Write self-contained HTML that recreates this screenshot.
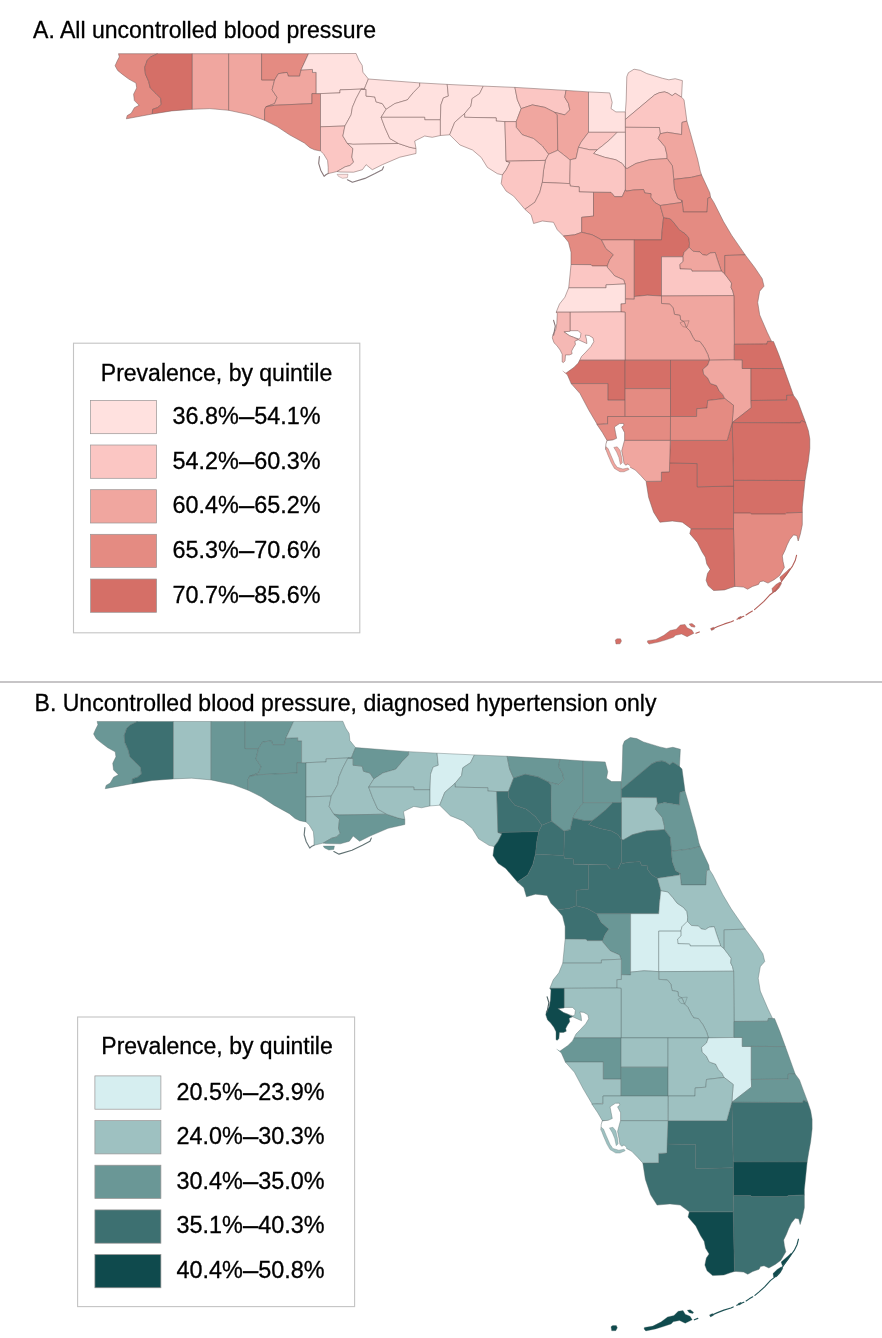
<!DOCTYPE html>
<html><head><meta charset="utf-8"><title>Uncontrolled blood pressure, Florida counties</title>
<style>
html,body{margin:0;padding:0;background:#fff}
svg{display:block}
text{font-family:"Liberation Sans",Arial,Helvetica,sans-serif;fill:#000}
</style></head><body>
<svg width="882" height="1338" viewBox="0 0 882 1338">
<rect width="882" height="1338" fill="#fff"/>
<text x="33.1" y="37.6" font-size="23.02" stroke="#000" stroke-width="0.3">A. All uncontrolled blood pressure</text>
<g stroke="#755956" stroke-width="0.5" stroke-linejoin="round">
<polygon points="118.5,53.7 157.6,53.7 150.8,56.9 147.1,60.3 146.1,63.7 144.7,67.1 145.4,74.0 148.7,81.5 150.2,87.9 155.8,93.4 160.6,98.2 161.3,104.5 157.4,107.7 152.6,109.3 152.3,114.0 126.4,118.8 127.2,115.6 131.2,113.3 134.4,107.7 139.1,105.3 134.4,100.6 133.6,94.2 136.7,87.9 136.0,83.1 128.8,79.1 122.5,74.4 117.7,70.5 115.1,65.8 117.2,61.0 119.3,56.9 118.5,53.7" fill="#e48b82"/>
<polygon points="157.6,53.7 192.3,53.7 192.3,109.3 171.7,110.9 152.3,114.0 152.6,109.3 157.4,107.7 161.3,104.5 160.6,98.2 155.8,93.4 150.2,87.9 148.7,81.5 145.4,74.0 144.7,67.1 146.1,63.7 147.1,60.3 150.8,56.9 157.6,53.7" fill="#d56f67"/>
<polygon points="192.3,53.7 228.7,53.7 228.7,110.3 209.8,108.6 192.3,109.3" fill="#f0a69f"/>
<polygon points="228.7,53.7 261.6,53.7 261.6,79.9 274.6,79.9 272.1,89.9 277.1,97.4 274.6,103.6 265.9,106.8 264.6,109.8 264.6,120.3 249.7,114.8 228.7,110.3" fill="#f0a69f"/>
<polygon points="261.6,53.7 308.5,53.7 301.0,69.9 299.6,76.2 288.3,76.2 287.1,72.4 278.4,73.7 274.6,79.9 261.6,79.9" fill="#e48b82"/>
<polygon points="274.6,79.9 278.4,73.7 287.1,72.4 288.3,76.2 299.6,76.2 301.0,69.9 312.5,69.4 312.5,72.4 316.2,72.4 316.2,93.6 312.0,93.6 312.0,103.6 274.6,105.3 265.9,106.8 274.6,103.6 277.1,97.4 272.1,89.9" fill="#f0a69f"/>
<polygon points="265.9,106.8 274.6,105.3 312.0,103.6 312.0,93.6 320.5,93.6 320.5,151.0 314.5,149.8 309.9,147.7 304.4,143.0 289.5,134.8 277.2,126.6 264.6,120.3 264.6,109.8" fill="#e48b82"/>
<polygon points="308.5,53.7 356.1,53.5 358.8,60.0 362.2,65.4 362.9,72.2 368.4,79.0 365.6,85.8 364.3,89.2 361.1,89.1 340.0,89.9 340.0,92.9 320.5,93.6 316.2,93.6 316.2,72.4 312.5,72.4 312.5,69.4 301.0,69.9" fill="#ffe1df"/>
<polygon points="320.5,93.6 340.0,92.9 340.0,89.9 361.1,89.1 356.1,98.6 352.4,107.3 351.1,114.8 344.9,126.0 320.5,126.8" fill="#ffe1df"/>
<polygon points="320.5,126.8 344.9,126.0 342.9,136.0 347.4,143.5 352.9,148.5 351.9,157.2 353.6,162.2 350.0,165.5 345.2,166.8 337.1,171.5 328.2,173.6 328.2,167.4 327.6,160.6 323.5,153.8 320.5,151.0" fill="#fbc6c3"/>
<polygon points="361.1,89.1 366.1,89.4 366.1,96.1 374.8,96.9 376.1,101.9 382.3,103.6 386.1,109.3 381.1,117.3 384.8,127.3 389.8,138.5 398.5,143.5 352.9,144.3 347.4,143.5 342.9,136.0 344.9,126.0 351.1,114.8 352.4,107.3 356.1,98.6" fill="#ffe1df"/>
<polygon points="352.9,144.3 398.5,143.5 409.8,147.3 416.0,148.5 416.0,153.5 399.8,157.2 382.3,164.7 372.3,169.7 366.1,164.7 362.4,169.7 353.6,172.2 340.0,172.0 337.1,171.5 345.2,166.8 350.0,165.5 353.6,162.2 351.9,157.2 352.9,148.5 347.4,143.5" fill="#ffe1df"/>
<polygon points="368.4,79.0 419.7,82.9 419.7,86.1 413.5,92.4 407.3,99.9 394.8,103.6 386.1,109.3 382.3,103.6 376.1,101.9 374.8,96.9 366.1,96.1 366.1,89.4 361.1,89.1 364.3,89.2 365.6,85.8" fill="#ffe1df"/>
<polygon points="419.7,82.9 447.2,84.4 448.4,96.1 443.4,97.9 440.9,104.9 440.4,119.8 424.7,119.8 424.7,117.3 381.1,117.3 386.1,109.3 394.8,103.6 407.3,99.9 413.5,92.4 419.7,86.1" fill="#ffe1df"/>
<polygon points="381.1,117.3 424.7,117.3 424.7,119.8 440.4,119.8 440.4,135.5 432.2,137.3 424.7,136.0 414.7,141.0 416.0,148.5 409.8,147.3 398.5,143.5 389.8,138.5 384.8,127.3" fill="#ffe1df"/>
<polygon points="447.2,84.4 483.3,86.1 479.6,93.6 472.1,98.6 470.9,106.1 464.6,113.6 454.7,122.3 449.7,134.8 440.4,135.5 440.4,119.8 440.9,104.9 443.4,97.9 448.4,96.1" fill="#ffe1df"/>
<polygon points="483.3,86.1 514.9,87.4 517.4,99.9 521.2,108.6 517.4,118.6 516.2,121.6 504.9,121.6 496.2,121.1 496.2,117.9 464.6,117.3 464.6,113.6 470.9,106.1 472.1,98.6 479.6,93.6" fill="#ffe1df"/>
<polygon points="464.6,113.6 464.6,117.3 496.2,117.9 496.2,121.1 504.9,121.6 506.1,161.2 509.9,162.4 506.1,169.9 502.4,174.9 497.4,173.7 487.4,167.4 481.2,157.4 472.5,150.0 460.0,145.0 449.7,134.8 454.7,122.3" fill="#ffe1df"/>
<polygon points="514.9,87.4 566.0,90.4 564.8,97.4 568.5,103.6 569.8,109.9 564.8,114.9 554.8,112.4 544.9,107.4 532.4,104.9 521.2,108.6 517.4,99.9" fill="#fbc6c3"/>
<polygon points="521.2,108.6 532.4,104.9 544.9,107.4 554.8,112.4 557.3,114.9 557.8,150.3 548.6,154.3 542.4,146.0 533.6,138.6 522.4,134.8 516.2,127.3 516.2,121.6 517.4,118.6" fill="#f0a69f"/>
<polygon points="566.0,90.4 588.5,91.9 588.5,132.3 581.0,142.3 578.5,147.3 576.0,158.5 569.8,159.8 563.6,154.8 557.8,150.3 557.3,114.9 554.8,112.4 564.8,114.9 569.8,109.9 568.5,103.6 564.8,97.4" fill="#f0a69f"/>
<polygon points="588.5,91.9 609.7,92.9 612.2,102.4 611.0,108.6 615.9,111.9 625.4,111.9 625.4,132.3 588.5,132.3" fill="#ffe1df"/>
<polygon points="625.4,111.9 626.2,100.0 626.8,76.7 628.4,72.7 634.0,69.2 640.3,70.3 646.7,73.5 654.6,75.9 662.5,78.3 668.9,79.8 675.2,78.7 682.4,80.6 681.6,96.5 681.6,97.3 675.2,93.3 672.1,95.7 668.0,93.0 664.6,91.9 659.4,92.7 654.6,94.9 625.4,119.4" fill="#ffe1df"/>
<polygon points="625.4,119.4 654.6,94.9 659.4,92.7 664.6,91.9 668.0,93.0 672.1,95.7 675.2,93.3 681.6,97.3 684.0,99.7 685.4,109.9 686.9,121.1 682.0,122.4 681.6,134.6 667.1,132.3 660.2,133.8 659.4,127.5 625.4,127.3" fill="#fbc6c3"/>
<polygon points="625.4,127.3 659.4,127.5 660.2,133.8 658.2,138.6 665.0,146.7 667.0,154.9 667.1,158.5 649.6,159.8 635.9,163.5 627.2,168.5 625.4,168.0" fill="#fbc6c3"/>
<polygon points="682.0,122.4 686.9,121.1 690.8,134.5 694.9,149.5 697.6,159.0 700.3,171.2 701.7,175.3 701.0,175.0 691.5,177.3 673.8,179.4 672.4,165.8 667.1,158.5 667.0,154.9 665.0,146.7 658.2,138.6 660.2,133.8 667.1,132.3 681.6,134.6" fill="#f0a69f"/>
<polygon points="588.5,132.3 617.2,132.3 609.7,139.8 602.2,146.0 597.2,149.8 589.8,149.8 578.5,147.3 581.0,142.3" fill="#fbc6c3"/>
<polygon points="617.2,132.3 625.4,132.3 625.4,168.0 622.2,163.5 615.9,159.8 604.7,157.3 593.5,153.5 597.2,149.8 602.2,146.0 609.7,139.8" fill="#ffe1df"/>
<polygon points="504.9,121.6 516.2,121.6 516.2,127.3 522.4,134.8 533.6,138.6 542.4,146.0 548.6,154.3 545.4,160.4 506.1,161.2" fill="#fbc6c3"/>
<polygon points="548.6,154.3 557.8,150.3 563.6,154.8 569.8,159.8 570.3,159.8 569.8,183.6 542.3,182.4 543.6,169.9 545.4,160.4" fill="#fbc6c3"/>
<polygon points="506.1,161.2 545.4,160.4 543.6,169.9 542.3,182.4 539.8,192.4 534.8,202.3 524.9,209.3 521.1,204.8 513.6,196.1 506.1,191.1 501.2,183.6 502.4,174.9 506.1,169.9 509.9,162.4" fill="#fbc6c3"/>
<polygon points="570.3,159.8 576.0,158.5 578.5,147.3 589.8,149.8 597.2,149.8 593.5,153.5 604.7,157.3 615.9,159.8 622.2,163.5 625.4,168.0 625.4,189.7 622.2,196.7 614.7,196.7 611.0,192.4 579.2,191.9 579.2,186.9 570.3,186.1 569.8,183.6" fill="#fbc6c3"/>
<polygon points="542.3,182.4 569.8,183.6 570.3,186.1 579.2,186.9 579.2,191.9 593.5,192.4 593.5,216.1 581.7,217.3 581.7,232.3 574.7,234.8 563.5,236.0 557.3,229.8 553.5,222.3 542.3,221.0 533.6,223.5 531.1,214.8 524.9,209.3 534.8,202.3 539.8,192.4" fill="#fbc6c3"/>
<polygon points="625.4,168.0 627.2,168.5 635.9,163.5 649.6,159.8 667.1,158.5 672.4,165.8 673.8,179.4 674.5,188.9 677.9,198.4 682.0,200.5 681.3,202.5 660.2,205.5 654.8,202.5 650.7,197.1 651.0,193.7 644.8,193.0 643.5,189.5 633.5,190.0 626.1,191.2 625.4,189.7" fill="#f0a69f"/>
<polygon points="673.8,179.4 691.5,177.3 701.0,175.0 701.7,175.3 709.9,193.0 710.5,197.1 707.8,198.4 707.1,212.0 683.3,212.0 682.0,200.5 677.9,198.4 674.5,188.9" fill="#e48b82"/>
<polygon points="593.5,192.4 611.0,192.4 614.7,196.7 622.2,196.7 625.4,189.7 626.1,191.2 633.5,190.0 643.5,189.5 644.8,193.0 651.0,193.7 650.7,197.1 654.8,202.5 660.2,205.5 663.6,217.5 662.2,229.9 661.5,239.9 601.5,239.9 592.2,234.8 581.7,232.3 581.7,217.3 593.5,216.1" fill="#e48b82"/>
<polygon points="563.5,236.0 574.7,234.8 581.7,232.3 592.2,234.8 601.5,239.9 605.9,248.5 613.4,254.7 609.7,259.7 607.2,266.0 592.2,266.0 591.0,264.7 571.0,264.5 571.0,252.2 568.5,242.2" fill="#e48b82"/>
<polygon points="601.5,239.9 634.3,239.9 634.3,299.2 625.3,299.0 625.3,284.8 625.1,284.0 623.6,279.8 614.8,276.0 607.3,267.3 607.2,266.0 609.7,259.7 613.4,254.7 605.9,248.5" fill="#f0a69f"/>
<polygon points="634.3,239.9 661.5,239.9 662.2,229.9 663.6,217.5 670.4,218.8 675.2,224.3 679.3,229.7 685.4,233.8 688.8,237.9 689.5,243.3 689.2,247.3 687.4,249.1 684.0,252.5 682.9,256.8 661.5,256.8 661.5,296.0 647.3,295.2 634.3,296.5" fill="#d56f67"/>
<polygon points="660.2,205.5 681.3,202.5 682.0,200.5 683.3,212.0 707.1,212.0 707.8,198.4 710.5,197.1 713.9,202.5 723.5,221.6 731.6,235.2 745.2,254.9 724.8,255.5 724.8,274.0 721.4,271.2 719.2,264.9 716.9,258.1 715.2,252.5 710.1,253.0 706.7,255.3 702.7,254.7 699.9,251.9 693.1,251.3 689.2,247.3 689.5,243.3 688.8,237.9 685.4,233.8 679.3,229.7 675.2,224.3 670.4,218.8 663.6,217.5" fill="#e48b82"/>
<polygon points="682.9,256.8 684.0,252.5 687.4,249.1 689.2,247.3 693.1,251.3 699.9,251.9 702.7,254.7 706.7,255.3 710.1,253.0 715.2,252.5 716.9,258.1 719.2,264.9 721.4,271.2 692.0,271.2 691.4,269.3 680.0,268.9 679.7,264.4 682.9,261.5" fill="#f0a69f"/>
<polygon points="661.5,256.8 682.9,256.8 682.9,261.5 679.7,264.4 680.0,268.9 691.4,269.3 692.0,271.2 721.4,271.2 724.8,274.0 728.2,278.5 731.6,283.1 731.1,287.6 732.8,291.0 733.9,295.6 661.5,296.0" fill="#fbc6c3"/>
<polygon points="724.8,255.5 745.2,254.9 754.7,267.5 762.2,278.7 764.0,286.2 759.7,291.2 757.7,302.4 759.7,314.9 767.2,332.3 771.6,341.4 767.6,341.4 766.9,344.1 734.3,344.3 733.9,295.6 732.8,291.0 731.1,287.6 731.6,283.1 728.2,278.5 724.8,274.0" fill="#e48b82"/>
<polygon points="661.5,296.0 733.9,295.6 734.3,344.3 734.3,359.8 709.5,360.2 707.8,354.5 704.4,347.7 699.9,341.5 695.4,340.9 693.1,337.5 689.7,330.7 686.3,327.3 684.0,321.6 680.6,319.9 680.0,315.4 674.4,314.3 673.2,308.0 669.8,304.1 661.5,303.5" fill="#f0a69f"/>
<polygon points="625.3,299.0 634.3,299.2 634.3,296.5 647.3,295.2 661.5,296.0 661.5,303.5 669.8,304.1 673.2,308.0 674.4,314.3 680.0,315.4 680.6,319.9 684.0,321.6 686.3,327.3 689.7,330.7 693.1,337.5 695.4,340.9 699.9,341.5 704.4,347.7 707.8,354.5 709.5,360.2 625.1,360.2 625.1,312.2 620.9,311.9 620.9,303.8 625.3,303.5" fill="#f0a69f"/>
<polygon points="571.0,264.5 591.0,264.7 592.2,266.0 607.2,266.0 607.3,267.3 614.8,276.0 623.6,279.8 625.1,284.0 606.1,284.8 606.1,287.8 568.7,287.8 570.0,275.0" fill="#fbc6c3"/>
<polygon points="568.7,287.8 606.1,287.8 606.1,284.8 625.1,284.0 625.3,284.8 625.3,303.5 620.9,303.8 620.9,311.9 570.0,312.2 556.2,312.2 559.5,304.0 564.9,297.2" fill="#ffe1df"/>
<polygon points="570.0,312.2 620.9,311.9 625.1,312.2 625.1,360.2 573.0,360.2 574.0,345.0 578.2,339.7 570.0,331.3" fill="#fbc6c3"/>
<polygon points="573.0,360.2 625.1,360.2 625.1,400.2 607.8,400.2 607.8,383.6 571.2,383.6 567.4,374.8 562.4,370.5 566.0,368.0" fill="#d56f67"/>
<polygon points="571.2,383.6 607.8,383.6 607.8,400.2 625.1,400.2 625.1,416.5 607.8,416.5 607.8,423.5 597.4,424.7 588.6,409.8 580.0,393.5" fill="#e48b82"/>
<polygon points="625.1,360.2 670.5,360.2 670.5,388.6 625.1,388.6" fill="#d56f67"/>
<polygon points="625.1,388.6 670.5,388.6 670.5,416.5 625.1,416.5" fill="#e48b82"/>
<polygon points="670.5,360.2 709.5,360.2 707.7,365.2 702.9,369.3 703.6,374.0 707.7,378.1 710.4,383.5 716.5,385.6 719.3,391.0 722.7,394.4 724.7,398.5 707.7,400.5 707.0,408.0 696.8,408.7 696.6,416.5 670.5,416.5" fill="#d56f67"/>
<polygon points="709.5,360.2 734.3,359.8 742.3,359.8 742.3,368.5 751.0,368.5 751.0,400.5 751.3,407.7 732.2,422.6 733.5,405.3 724.7,398.5 722.7,394.4 719.3,391.0 716.5,385.6 710.4,383.5 707.7,378.1 703.6,374.0 702.9,369.3 707.7,365.2 709.5,360.2" fill="#f0a69f"/>
<polygon points="734.3,344.3 766.9,344.1 767.6,341.4 771.6,341.4 773.5,341.5 778.4,353.6 783.9,368.6 751.0,368.5 742.3,368.5 742.3,359.8 734.3,359.8" fill="#d56f67"/>
<polygon points="751.0,368.5 783.9,368.6 790.7,387.6 793.4,395.2 786.7,395.4 786.7,400.2 751.0,400.5" fill="#d56f67"/>
<polygon points="751.0,400.5 786.7,400.2 786.7,395.4 793.4,395.2 797.6,400.9 801.6,411.8 805.7,422.7 801.6,420.6 800.3,422.9 732.2,422.6 751.3,407.7" fill="#d56f67"/>
<polygon points="732.2,422.6 800.3,422.9 801.6,420.6 805.7,422.7 808.4,430.8 809.8,439.0 809.8,448.5 808.4,460.7 806.4,471.6 805.0,480.5 733.5,480.4" fill="#d56f67"/>
<polygon points="733.5,480.4 805.0,480.5 803.7,493.4 802.3,507.0 802.3,512.4 786.7,513.1 785.3,514.1 751.3,514.1 750.6,513.1 733.6,513.1" fill="#d56f67"/>
<polygon points="733.6,513.1 750.6,513.1 751.3,514.1 785.3,514.1 786.7,513.1 802.3,512.4 802.3,524.7 800.3,534.2 798.2,541.0 796.9,535.6 793.5,534.9 789.8,539.5 787.1,545.0 785.0,550.4 782.3,555.9 783.0,561.3 784.4,567.4 781.6,572.2 779.6,575.6 774.1,579.7 768.0,583.1 763.3,581.0 759.9,581.7 758.5,584.4 752.4,586.5 747.6,589.2 743.5,587.1 736.7,586.5 734.7,586.5 733.5,528.7" fill="#e48b82"/>
<polygon points="691.1,528.7 733.5,528.7 734.7,586.5 730.6,587.8 724.5,589.9 713.6,590.5 708.2,585.8 706.1,580.3 707.5,573.5 710.2,569.5 706.8,564.0 705.4,557.2 702.0,551.8 697.3,542.4 689.8,533.7" fill="#d56f67"/>
<polygon points="669.3,462.9 697.3,463.6 697.3,486.8 733.5,486.1 733.5,528.7 691.1,528.7 682.3,522.2 672.3,521.0 659.9,522.2 653.6,512.2 648.6,497.3 646.1,481.4 661.4,481.2 661.4,472.1 669.4,471.8" fill="#d56f67"/>
<polygon points="670.5,440.4 727.2,440.4 732.2,422.6 733.5,480.4 733.5,486.1 697.3,486.8 697.3,463.6 669.3,462.9" fill="#d56f67"/>
<polygon points="670.5,416.5 696.6,416.5 696.8,408.7 707.0,408.0 707.7,400.5 724.7,398.5 733.5,405.3 732.2,422.6 727.2,440.4 670.5,440.4" fill="#e48b82"/>
<polygon points="607.6,416.5 670.5,416.5 670.3,440.4 607.0,440.4 602.5,432.7 596.8,424.2 607.6,424.2" fill="#e48b82"/>
<polygon points="607.0,440.4 670.3,440.4 669.4,471.8 661.4,472.1 661.4,481.2 646.1,481.4 641.0,475.8 635.4,470.1 629.7,467.0 624.0,471.0 618.0,469.0 612.0,463.0 606.0,449.0" fill="#f0a69f"/>
<polygon points="563.9,331.8 569.4,330.7 578.2,330.7 580.9,333.4 580.4,337.3 578.8,339.0 573.7,337.3 569.4,335.7" fill="#fff"/>
<polygon points="578.2,339.7 586.9,343.6 586.4,339.0 585.3,335.1 589.1,335.5 593.0,337.9 593.8,341.7 590.8,346.7 585.8,352.1 581.5,356.5 578.2,363.1 573.8,367.5 566.1,373.0 561.9,370.6 563.3,363.1 565.0,360.9 565.5,354.9 569.4,354.9 572.1,353.8 571.6,351.0 573.2,347.8 575.4,344.5 574.9,341.2" fill="#fff" stroke="none"/>
<polyline points="578.2,339.7 586.9,343.6 586.4,339.0 585.3,335.1 589.1,335.5 593.0,337.9 593.8,341.7 590.8,346.7 585.8,352.1 581.5,356.5 578.2,363.1 573.8,367.5 566.1,373.0" fill="none"/>
<polygon points="614.4,427.0 619.5,423.6 623.4,423.4 624.0,425.3 621.7,427.0 624.6,432.7 624.6,440.0 622.9,446.3 621.7,450.8 623.1,457.6 624.0,463.3 625.7,465.2 628.0,463.9 629.7,465.6 630.2,467.8 629.1,469.8 624.0,472.0 620.0,472.0 614.4,468.6 611.3,463.3 607.9,455.4 605.6,449.7 605.9,444.0 607.0,440.6 612.7,440.0 616.6,438.3 615.5,432.7" fill="#fff" stroke="none"/>
<polyline points="605.6,449.7 605.9,444.0 607.0,440.6 612.7,440.0 616.6,438.3 615.5,432.7 614.4,427.0 619.5,423.6 623.4,423.4 624.0,425.3 621.7,427.0 624.6,432.7 624.6,440.0 622.9,446.3 621.7,450.8 623.1,457.6 624.0,463.3 625.7,465.2 628.0,463.9 629.7,465.6" fill="none"/>
<polygon points="605.9,446.8 608.1,448.5 611.0,455.4 614.4,463.3 617.2,467.3 622.9,469.0 628.0,468.0 629.1,469.5 624.0,471.8 620.0,471.8 614.4,468.4 611.5,463.3 608.1,455.4 605.9,449.7" fill="#f0a69f" stroke-width="0.35"/>
<polygon points="613.8,447.4 617.2,446.8 620.0,450.2 621.7,457.6 622.3,462.7 620.4,464.6 618.9,457.6 616.6,452.0" fill="#f0a69f" stroke-width="0.35"/>
<polygon points="337.1,174.3 348.0,174.3 347.3,177.7 342.5,178.3 338.4,176.3" fill="#ffe1df" stroke-width="0.35"/>
<polygon points="647.3,642.1 647.6,640.7 655.8,639.4 663.9,635.3 670.1,630.5 676.2,629.2 680.3,625.1 685.0,624.4 687.1,627.8 691.8,629.9 693.9,633.3 687.1,636.7 681.6,634.0 675.5,635.3 673.5,637.3 665.3,640.1 658.5,642.1 649.0,644.1" fill="#d56f67" stroke-width="0.35"/>
<polygon points="689.1,624.0 692.0,623.5 695.2,626.0 694.5,627.3 691.0,626.5" fill="#d56f67" stroke-width="0.35"/>
<polygon points="615.3,640.0 617.0,638.8 620.5,638.8 621.5,641.0 620.0,643.8 616.0,644.0" fill="#d56f67" stroke-width="0.35"/>
<polygon points="779.8,577.2 786.5,571.5 789.5,568.5 790.3,569.5 787.0,574.5 783.0,579.5 781.0,581.0" fill="#d56f67" stroke-width="0.35"/>
<polygon points="772.0,588.5 776.0,584.5 780.0,582.0 781.5,583.5 779.0,588.0 775.5,591.5 772.5,592.0" fill="#d56f67" stroke-width="0.35"/>
<polygon points="710.5,628.6 713.5,627.2 714.5,629.0 711.6,630.5" fill="#d56f67" stroke-width="0.35"/>
<polygon points="738.2,617.6 741.0,616.3 741.6,617.8 739.0,619.2" fill="#d56f67" stroke-width="0.35"/>
<polygon points="556.2,312.2 570.0,312.2 570.0,331.3 563.9,331.8 569.4,335.7 573.7,337.3 578.2,339.7 574.9,341.2 575.4,344.5 573.3,347.8 571.6,351.1 572.1,353.8 569.4,354.9 565.5,354.9 565.0,360.9 563.4,362.6 562.2,362.0 562.2,354.3 560.1,350.0 556.8,345.5 554.0,342.8 552.3,337.9 552.9,334.6 555.6,330.1 556.8,323.6 557.3,313.7" fill="#f5b8b4"/>
<polyline points="319.4,156.5 318.7,163.4 320.7,170.2 324.1,176.3 326.2,174.5 328.2,173.6" fill="none" stroke="#877678" stroke-width="1.1" stroke-linecap="round"/>
<polyline points="347.4,179.7 352.4,182.2 364.9,178.4 375.0,173.5 382.3,169.7 383.6,166.7" fill="none" stroke="#877b7e" stroke-width="1.1" stroke-linecap="round"/>
<polyline points="553.6,320.4 555.3,326.1 553.6,335.1" fill="none" stroke="#857375" stroke-width="1.1" stroke-linecap="round"/>
<polyline points="680.0,322.8 684.0,321.1 689.1,320.7 686.8,327.3 682.9,326.7 680.0,322.8" fill="none" stroke-width="0.40"/>
<polyline points="796.6,555.2 795.2,560.6 792.5,566.1 789.1,570.8 785.7,575.6 782.3,580.3 778.9,585.8 775.5,590.5 769.4,595.3 763.9,601.4 758.5,606.2 754.5,609.6" fill="none" stroke="#b35f59" stroke-width="1.1" stroke-linecap="round"/>
<polyline points="752.4,611.0 749.0,613.0 746.0,615.0" fill="none" stroke="#b35f59" stroke-width="1.1" stroke-linecap="round"/>
<polyline points="743.8,616.2 740.1,617.8 737.0,619.3" fill="none" stroke="#b35f59" stroke-width="1.1" stroke-linecap="round"/>
<polyline points="733.5,620.8 731.3,621.8 724.5,623.9 717.7,626.6 711.6,629.3" fill="none" stroke="#b35f59" stroke-width="1.1" stroke-linecap="round"/>
<polyline points="695.9,633.3 699.3,631.9" fill="none" stroke="#b35f59" stroke-width="1.1" stroke-linecap="round"/>
</g>
<rect x="73.5" y="343.2" width="286.3" height="289.6" fill="#fff" stroke="#c4c4c4" stroke-width="1.1"/>
<text x="100.8" y="380.6" font-size="23" stroke="#000" stroke-width="0.3">Prevalence, by quintile</text>
<rect x="90.6" y="400.4" width="66" height="33.3" fill="#ffe1df" stroke="#999494" stroke-width="0.7"/>
<text x="172.6" y="424.3" font-size="23.4" stroke="#000" stroke-width="0.3">36.8%<tspan font-size="27.5" dy="0.9">–</tspan><tspan dy="-0.9">54.1%</tspan></text>
<rect x="90.6" y="445.0" width="66" height="33.3" fill="#fbc6c3" stroke="#999494" stroke-width="0.7"/>
<text x="172.6" y="468.9" font-size="23.4" stroke="#000" stroke-width="0.3">54.2%<tspan font-size="27.5" dy="0.9">–</tspan><tspan dy="-0.9">60.3%</tspan></text>
<rect x="90.6" y="489.7" width="66" height="33.3" fill="#f0a69f" stroke="#999494" stroke-width="0.7"/>
<text x="172.6" y="513.4" font-size="23.4" stroke="#000" stroke-width="0.3">60.4%<tspan font-size="27.5" dy="0.9">–</tspan><tspan dy="-0.9">65.2%</tspan></text>
<rect x="90.6" y="534.3" width="66" height="33.3" fill="#e48b82" stroke="#999494" stroke-width="0.7"/>
<text x="172.6" y="558.0" font-size="23.4" stroke="#000" stroke-width="0.3">65.3%<tspan font-size="27.5" dy="0.9">–</tspan><tspan dy="-0.9">70.6%</tspan></text>
<rect x="90.6" y="579.0" width="66" height="33.3" fill="#d56f67" stroke="#999494" stroke-width="0.7"/>
<text x="172.6" y="602.5" font-size="23.4" stroke="#000" stroke-width="0.3">70.7%<tspan font-size="27.5" dy="0.9">–</tspan><tspan dy="-0.9">85.6%</tspan></text>
<rect x="0" y="681.1" width="882" height="1.8" fill="#c1bfc1"/>
<text x="34.6" y="710.8" font-size="23.02" stroke="#000" stroke-width="0.3">B. Uncontrolled blood pressure, diagnosed hypertension only</text>
<g transform="matrix(1.0343,0,0,1.0323,-25.46,666.05)">
<g stroke="#586b6c" stroke-width="0.4" stroke-linejoin="round">
<polygon points="118.5,53.7 157.6,53.7 150.8,56.9 147.1,60.3 146.1,63.7 144.7,67.1 145.4,74.0 148.7,81.5 150.2,87.9 155.8,93.4 160.6,98.2 161.3,104.5 157.4,107.7 152.6,109.3 152.3,114.0 126.4,118.8 127.2,115.6 131.2,113.3 134.4,107.7 139.1,105.3 134.4,100.6 133.6,94.2 136.7,87.9 136.0,83.1 128.8,79.1 122.5,74.4 117.7,70.5 115.1,65.8 117.2,61.0 119.3,56.9 118.5,53.7" fill="#6a9796"/>
<polygon points="157.6,53.7 192.3,53.7 192.3,109.3 171.7,110.9 152.3,114.0 152.6,109.3 157.4,107.7 161.3,104.5 160.6,98.2 155.8,93.4 150.2,87.9 148.7,81.5 145.4,74.0 144.7,67.1 146.1,63.7 147.1,60.3 150.8,56.9 157.6,53.7" fill="#3d7071"/>
<polygon points="192.3,53.7 228.7,53.7 228.7,110.3 209.8,108.6 192.3,109.3" fill="#9ec1c1"/>
<polygon points="228.7,53.7 261.6,53.7 261.6,79.9 274.6,79.9 272.1,89.9 277.1,97.4 274.6,103.6 265.9,106.8 264.6,109.8 264.6,120.3 249.7,114.8 228.7,110.3" fill="#6a9796"/>
<polygon points="261.6,53.7 308.5,53.7 301.0,69.9 299.6,76.2 288.3,76.2 287.1,72.4 278.4,73.7 274.6,79.9 261.6,79.9" fill="#6a9796"/>
<polygon points="274.6,79.9 278.4,73.7 287.1,72.4 288.3,76.2 299.6,76.2 301.0,69.9 312.5,69.4 312.5,72.4 316.2,72.4 316.2,93.6 312.0,93.6 312.0,103.6 274.6,105.3 265.9,106.8 274.6,103.6 277.1,97.4 272.1,89.9" fill="#6a9796"/>
<polygon points="265.9,106.8 274.6,105.3 312.0,103.6 312.0,93.6 320.5,93.6 320.5,151.0 314.5,149.8 309.9,147.7 304.4,143.0 289.5,134.8 277.2,126.6 264.6,120.3 264.6,109.8" fill="#6a9796"/>
<polygon points="308.5,53.7 356.1,53.5 358.8,60.0 362.2,65.4 362.9,72.2 368.4,79.0 365.6,85.8 364.3,89.2 361.1,89.1 340.0,89.9 340.0,92.9 320.5,93.6 316.2,93.6 316.2,72.4 312.5,72.4 312.5,69.4 301.0,69.9" fill="#9ec1c1"/>
<polygon points="320.5,93.6 340.0,92.9 340.0,89.9 361.1,89.1 356.1,98.6 352.4,107.3 351.1,114.8 344.9,126.0 320.5,126.8" fill="#9ec1c1"/>
<polygon points="320.5,126.8 344.9,126.0 342.9,136.0 347.4,143.5 352.9,148.5 351.9,157.2 353.6,162.2 350.0,165.5 345.2,166.8 337.1,171.5 328.2,173.6 328.2,167.4 327.6,160.6 323.5,153.8 320.5,151.0" fill="#9ec1c1"/>
<polygon points="361.1,89.1 366.1,89.4 366.1,96.1 374.8,96.9 376.1,101.9 382.3,103.6 386.1,109.3 381.1,117.3 384.8,127.3 389.8,138.5 398.5,143.5 352.9,144.3 347.4,143.5 342.9,136.0 344.9,126.0 351.1,114.8 352.4,107.3 356.1,98.6" fill="#9ec1c1"/>
<polygon points="352.9,144.3 398.5,143.5 409.8,147.3 416.0,148.5 416.0,153.5 399.8,157.2 382.3,164.7 372.3,169.7 366.1,164.7 362.4,169.7 353.6,172.2 340.0,172.0 337.1,171.5 345.2,166.8 350.0,165.5 353.6,162.2 351.9,157.2 352.9,148.5 347.4,143.5" fill="#6a9796"/>
<polygon points="368.4,79.0 419.7,82.9 419.7,86.1 413.5,92.4 407.3,99.9 394.8,103.6 386.1,109.3 382.3,103.6 376.1,101.9 374.8,96.9 366.1,96.1 366.1,89.4 361.1,89.1 364.3,89.2 365.6,85.8" fill="#6a9796"/>
<polygon points="419.7,82.9 447.2,84.4 448.4,96.1 443.4,97.9 440.9,104.9 440.4,119.8 424.7,119.8 424.7,117.3 381.1,117.3 386.1,109.3 394.8,103.6 407.3,99.9 413.5,92.4 419.7,86.1" fill="#9ec1c1"/>
<polygon points="381.1,117.3 424.7,117.3 424.7,119.8 440.4,119.8 440.4,135.5 432.2,137.3 424.7,136.0 414.7,141.0 416.0,148.5 409.8,147.3 398.5,143.5 389.8,138.5 384.8,127.3" fill="#9ec1c1"/>
<polygon points="447.2,84.4 483.3,86.1 479.6,93.6 472.1,98.6 470.9,106.1 464.6,113.6 454.7,122.3 449.7,134.8 440.4,135.5 440.4,119.8 440.9,104.9 443.4,97.9 448.4,96.1" fill="#d6eef0"/>
<polygon points="483.3,86.1 514.9,87.4 517.4,99.9 521.2,108.6 517.4,118.6 516.2,121.6 504.9,121.6 496.2,121.1 496.2,117.9 464.6,117.3 464.6,113.6 470.9,106.1 472.1,98.6 479.6,93.6" fill="#9ec1c1"/>
<polygon points="464.6,113.6 464.6,117.3 496.2,117.9 496.2,121.1 504.9,121.6 506.1,161.2 509.9,162.4 506.1,169.9 502.4,174.9 497.4,173.7 487.4,167.4 481.2,157.4 472.5,150.0 460.0,145.0 449.7,134.8 454.7,122.3" fill="#9ec1c1"/>
<polygon points="514.9,87.4 566.0,90.4 564.8,97.4 568.5,103.6 569.8,109.9 564.8,114.9 554.8,112.4 544.9,107.4 532.4,104.9 521.2,108.6 517.4,99.9" fill="#6a9796"/>
<polygon points="521.2,108.6 532.4,104.9 544.9,107.4 554.8,112.4 557.3,114.9 557.8,150.3 548.6,154.3 542.4,146.0 533.6,138.6 522.4,134.8 516.2,127.3 516.2,121.6 517.4,118.6" fill="#3d7071"/>
<polygon points="566.0,90.4 588.5,91.9 588.5,132.3 581.0,142.3 578.5,147.3 576.0,158.5 569.8,159.8 563.6,154.8 557.8,150.3 557.3,114.9 554.8,112.4 564.8,114.9 569.8,109.9 568.5,103.6 564.8,97.4" fill="#6a9796"/>
<polygon points="588.5,91.9 609.7,92.9 612.2,102.4 611.0,108.6 615.9,111.9 625.4,111.9 625.4,132.3 588.5,132.3" fill="#6a9796"/>
<polygon points="625.4,111.9 626.2,100.0 626.8,76.7 628.4,72.7 634.0,69.2 640.3,70.3 646.7,73.5 654.6,75.9 662.5,78.3 668.9,79.8 675.2,78.7 682.4,80.6 681.6,96.5 681.6,97.3 675.2,93.3 672.1,95.7 668.0,93.0 664.6,91.9 659.4,92.7 654.6,94.9 625.4,119.4" fill="#6a9796"/>
<polygon points="625.4,119.4 654.6,94.9 659.4,92.7 664.6,91.9 668.0,93.0 672.1,95.7 675.2,93.3 681.6,97.3 684.0,99.7 685.4,109.9 686.9,121.1 682.0,122.4 681.6,134.6 667.1,132.3 660.2,133.8 659.4,127.5 625.4,127.3" fill="#3d7071"/>
<polygon points="625.4,127.3 659.4,127.5 660.2,133.8 658.2,138.6 665.0,146.7 667.0,154.9 667.1,158.5 649.6,159.8 635.9,163.5 627.2,168.5 625.4,168.0" fill="#9ec1c1"/>
<polygon points="682.0,122.4 686.9,121.1 690.8,134.5 694.9,149.5 697.6,159.0 700.3,171.2 701.7,175.3 701.0,175.0 691.5,177.3 673.8,179.4 672.4,165.8 667.1,158.5 667.0,154.9 665.0,146.7 658.2,138.6 660.2,133.8 667.1,132.3 681.6,134.6" fill="#6a9796"/>
<polygon points="588.5,132.3 617.2,132.3 609.7,139.8 602.2,146.0 597.2,149.8 589.8,149.8 578.5,147.3 581.0,142.3" fill="#6a9796"/>
<polygon points="617.2,132.3 625.4,132.3 625.4,168.0 622.2,163.5 615.9,159.8 604.7,157.3 593.5,153.5 597.2,149.8 602.2,146.0 609.7,139.8" fill="#3d7071"/>
<polygon points="504.9,121.6 516.2,121.6 516.2,127.3 522.4,134.8 533.6,138.6 542.4,146.0 548.6,154.3 545.4,160.4 506.1,161.2" fill="#3d7071"/>
<polygon points="548.6,154.3 557.8,150.3 563.6,154.8 569.8,159.8 570.3,159.8 569.8,183.6 542.3,182.4 543.6,169.9 545.4,160.4" fill="#3d7071"/>
<polygon points="506.1,161.2 545.4,160.4 543.6,169.9 542.3,182.4 539.8,192.4 534.8,202.3 524.9,209.3 521.1,204.8 513.6,196.1 506.1,191.1 501.2,183.6 502.4,174.9 506.1,169.9 509.9,162.4" fill="#0f4a4d"/>
<polygon points="570.3,159.8 576.0,158.5 578.5,147.3 589.8,149.8 597.2,149.8 593.5,153.5 604.7,157.3 615.9,159.8 622.2,163.5 625.4,168.0 625.4,189.7 622.2,196.7 614.7,196.7 611.0,192.4 579.2,191.9 579.2,186.9 570.3,186.1 569.8,183.6" fill="#3d7071"/>
<polygon points="542.3,182.4 569.8,183.6 570.3,186.1 579.2,186.9 579.2,191.9 593.5,192.4 593.5,216.1 581.7,217.3 581.7,232.3 574.7,234.8 563.5,236.0 557.3,229.8 553.5,222.3 542.3,221.0 533.6,223.5 531.1,214.8 524.9,209.3 534.8,202.3 539.8,192.4" fill="#3d7071"/>
<polygon points="625.4,168.0 627.2,168.5 635.9,163.5 649.6,159.8 667.1,158.5 672.4,165.8 673.8,179.4 674.5,188.9 677.9,198.4 682.0,200.5 681.3,202.5 660.2,205.5 654.8,202.5 650.7,197.1 651.0,193.7 644.8,193.0 643.5,189.5 633.5,190.0 626.1,191.2 625.4,189.7" fill="#3d7071"/>
<polygon points="673.8,179.4 691.5,177.3 701.0,175.0 701.7,175.3 709.9,193.0 710.5,197.1 707.8,198.4 707.1,212.0 683.3,212.0 682.0,200.5 677.9,198.4 674.5,188.9" fill="#6a9796"/>
<polygon points="593.5,192.4 611.0,192.4 614.7,196.7 622.2,196.7 625.4,189.7 626.1,191.2 633.5,190.0 643.5,189.5 644.8,193.0 651.0,193.7 650.7,197.1 654.8,202.5 660.2,205.5 663.6,217.5 662.2,229.9 661.5,239.9 601.5,239.9 592.2,234.8 581.7,232.3 581.7,217.3 593.5,216.1" fill="#3d7071"/>
<polygon points="563.5,236.0 574.7,234.8 581.7,232.3 592.2,234.8 601.5,239.9 605.9,248.5 613.4,254.7 609.7,259.7 607.2,266.0 592.2,266.0 591.0,264.7 571.0,264.5 571.0,252.2 568.5,242.2" fill="#3d7071"/>
<polygon points="601.5,239.9 634.3,239.9 634.3,299.2 625.3,299.0 625.3,284.8 625.1,284.0 623.6,279.8 614.8,276.0 607.3,267.3 607.2,266.0 609.7,259.7 613.4,254.7 605.9,248.5" fill="#6a9796"/>
<polygon points="634.3,239.9 661.5,239.9 662.2,229.9 663.6,217.5 670.4,218.8 675.2,224.3 679.3,229.7 685.4,233.8 688.8,237.9 689.5,243.3 689.2,247.3 687.4,249.1 684.0,252.5 682.9,256.8 661.5,256.8 661.5,296.0 647.3,295.2 634.3,296.5" fill="#d6eef0"/>
<polygon points="660.2,205.5 681.3,202.5 682.0,200.5 683.3,212.0 707.1,212.0 707.8,198.4 710.5,197.1 713.9,202.5 723.5,221.6 731.6,235.2 745.2,254.9 724.8,255.5 724.8,274.0 721.4,271.2 719.2,264.9 716.9,258.1 715.2,252.5 710.1,253.0 706.7,255.3 702.7,254.7 699.9,251.9 693.1,251.3 689.2,247.3 689.5,243.3 688.8,237.9 685.4,233.8 679.3,229.7 675.2,224.3 670.4,218.8 663.6,217.5" fill="#9ec1c1"/>
<polygon points="682.9,256.8 684.0,252.5 687.4,249.1 689.2,247.3 693.1,251.3 699.9,251.9 702.7,254.7 706.7,255.3 710.1,253.0 715.2,252.5 716.9,258.1 719.2,264.9 721.4,271.2 692.0,271.2 691.4,269.3 680.0,268.9 679.7,264.4 682.9,261.5" fill="#d6eef0"/>
<polygon points="661.5,256.8 682.9,256.8 682.9,261.5 679.7,264.4 680.0,268.9 691.4,269.3 692.0,271.2 721.4,271.2 724.8,274.0 728.2,278.5 731.6,283.1 731.1,287.6 732.8,291.0 733.9,295.6 661.5,296.0" fill="#d6eef0"/>
<polygon points="724.8,255.5 745.2,254.9 754.7,267.5 762.2,278.7 764.0,286.2 759.7,291.2 757.7,302.4 759.7,314.9 767.2,332.3 771.6,341.4 767.6,341.4 766.9,344.1 734.3,344.3 733.9,295.6 732.8,291.0 731.1,287.6 731.6,283.1 728.2,278.5 724.8,274.0" fill="#9ec1c1"/>
<polygon points="661.5,296.0 733.9,295.6 734.3,344.3 734.3,359.8 709.5,360.2 707.8,354.5 704.4,347.7 699.9,341.5 695.4,340.9 693.1,337.5 689.7,330.7 686.3,327.3 684.0,321.6 680.6,319.9 680.0,315.4 674.4,314.3 673.2,308.0 669.8,304.1 661.5,303.5" fill="#9ec1c1"/>
<polygon points="625.3,299.0 634.3,299.2 634.3,296.5 647.3,295.2 661.5,296.0 661.5,303.5 669.8,304.1 673.2,308.0 674.4,314.3 680.0,315.4 680.6,319.9 684.0,321.6 686.3,327.3 689.7,330.7 693.1,337.5 695.4,340.9 699.9,341.5 704.4,347.7 707.8,354.5 709.5,360.2 625.1,360.2 625.1,312.2 620.9,311.9 620.9,303.8 625.3,303.5" fill="#9ec1c1"/>
<polygon points="571.0,264.5 591.0,264.7 592.2,266.0 607.2,266.0 607.3,267.3 614.8,276.0 623.6,279.8 625.1,284.0 606.1,284.8 606.1,287.8 568.7,287.8 570.0,275.0" fill="#9ec1c1"/>
<polygon points="568.7,287.8 606.1,287.8 606.1,284.8 625.1,284.0 625.3,284.8 625.3,303.5 620.9,303.8 620.9,311.9 570.0,312.2 556.2,312.2 559.5,304.0 564.9,297.2" fill="#9ec1c1"/>
<polygon points="570.0,312.2 620.9,311.9 625.1,312.2 625.1,360.2 573.0,360.2 574.0,345.0 578.2,339.7 570.0,331.3" fill="#9ec1c1"/>
<polygon points="573.0,360.2 625.1,360.2 625.1,400.2 607.8,400.2 607.8,383.6 571.2,383.6 567.4,374.8 562.4,370.5 566.0,368.0" fill="#6a9796"/>
<polygon points="571.2,383.6 607.8,383.6 607.8,400.2 625.1,400.2 625.1,416.5 607.8,416.5 607.8,423.5 597.4,424.7 588.6,409.8 580.0,393.5" fill="#9ec1c1"/>
<polygon points="625.1,360.2 670.5,360.2 670.5,388.6 625.1,388.6" fill="#9ec1c1"/>
<polygon points="625.1,388.6 670.5,388.6 670.5,416.5 625.1,416.5" fill="#6a9796"/>
<polygon points="670.5,360.2 709.5,360.2 707.7,365.2 702.9,369.3 703.6,374.0 707.7,378.1 710.4,383.5 716.5,385.6 719.3,391.0 722.7,394.4 724.7,398.5 707.7,400.5 707.0,408.0 696.8,408.7 696.6,416.5 670.5,416.5" fill="#9ec1c1"/>
<polygon points="709.5,360.2 734.3,359.8 742.3,359.8 742.3,368.5 751.0,368.5 751.0,400.5 751.3,407.7 732.2,422.6 733.5,405.3 724.7,398.5 722.7,394.4 719.3,391.0 716.5,385.6 710.4,383.5 707.7,378.1 703.6,374.0 702.9,369.3 707.7,365.2 709.5,360.2" fill="#d6eef0"/>
<polygon points="734.3,344.3 766.9,344.1 767.6,341.4 771.6,341.4 773.5,341.5 778.4,353.6 783.9,368.6 751.0,368.5 742.3,368.5 742.3,359.8 734.3,359.8" fill="#6a9796"/>
<polygon points="751.0,368.5 783.9,368.6 790.7,387.6 793.4,395.2 786.7,395.4 786.7,400.2 751.0,400.5" fill="#6a9796"/>
<polygon points="751.0,400.5 786.7,400.2 786.7,395.4 793.4,395.2 797.6,400.9 801.6,411.8 805.7,422.7 801.6,420.6 800.3,422.9 732.2,422.6 751.3,407.7" fill="#6a9796"/>
<polygon points="732.2,422.6 800.3,422.9 801.6,420.6 805.7,422.7 808.4,430.8 809.8,439.0 809.8,448.5 808.4,460.7 806.4,471.6 805.0,480.5 733.5,480.4" fill="#3d7071"/>
<polygon points="733.5,480.4 805.0,480.5 803.7,493.4 802.3,507.0 802.3,512.4 786.7,513.1 785.3,514.1 751.3,514.1 750.6,513.1 733.6,513.1" fill="#0f4a4d"/>
<polygon points="733.6,513.1 750.6,513.1 751.3,514.1 785.3,514.1 786.7,513.1 802.3,512.4 802.3,524.7 800.3,534.2 798.2,541.0 796.9,535.6 793.5,534.9 789.8,539.5 787.1,545.0 785.0,550.4 782.3,555.9 783.0,561.3 784.4,567.4 781.6,572.2 779.6,575.6 774.1,579.7 768.0,583.1 763.3,581.0 759.9,581.7 758.5,584.4 752.4,586.5 747.6,589.2 743.5,587.1 736.7,586.5 734.7,586.5 733.5,528.7" fill="#3d7071"/>
<polygon points="691.1,528.7 733.5,528.7 734.7,586.5 730.6,587.8 724.5,589.9 713.6,590.5 708.2,585.8 706.1,580.3 707.5,573.5 710.2,569.5 706.8,564.0 705.4,557.2 702.0,551.8 697.3,542.4 689.8,533.7" fill="#0f4a4d"/>
<polygon points="669.3,462.9 697.3,463.6 697.3,486.8 733.5,486.1 733.5,528.7 691.1,528.7 682.3,522.2 672.3,521.0 659.9,522.2 653.6,512.2 648.6,497.3 646.1,481.4 661.4,481.2 661.4,472.1 669.4,471.8" fill="#3d7071"/>
<polygon points="670.5,440.4 727.2,440.4 732.2,422.6 733.5,480.4 733.5,486.1 697.3,486.8 697.3,463.6 669.3,462.9" fill="#3d7071"/>
<polygon points="670.5,416.5 696.6,416.5 696.8,408.7 707.0,408.0 707.7,400.5 724.7,398.5 733.5,405.3 732.2,422.6 727.2,440.4 670.5,440.4" fill="#9ec1c1"/>
<polygon points="607.6,416.5 670.5,416.5 670.3,440.4 607.0,440.4 602.5,432.7 596.8,424.2 607.6,424.2" fill="#9ec1c1"/>
<polygon points="607.0,440.4 670.3,440.4 669.4,471.8 661.4,472.1 661.4,481.2 646.1,481.4 641.0,475.8 635.4,470.1 629.7,467.0 624.0,471.0 618.0,469.0 612.0,463.0 606.0,449.0" fill="#9ec1c1"/>
<polygon points="563.9,331.8 569.4,330.7 578.2,330.7 580.9,333.4 580.4,337.3 578.8,339.0 573.7,337.3 569.4,335.7" fill="#fff"/>
<polygon points="578.2,339.7 586.9,343.6 586.4,339.0 585.3,335.1 589.1,335.5 593.0,337.9 593.8,341.7 590.8,346.7 585.8,352.1 581.5,356.5 578.2,363.1 573.8,367.5 566.1,373.0 561.9,370.6 563.3,363.1 565.0,360.9 565.5,354.9 569.4,354.9 572.1,353.8 571.6,351.0 573.2,347.8 575.4,344.5 574.9,341.2" fill="#fff" stroke="none"/>
<polyline points="578.2,339.7 586.9,343.6 586.4,339.0 585.3,335.1 589.1,335.5 593.0,337.9 593.8,341.7 590.8,346.7 585.8,352.1 581.5,356.5 578.2,363.1 573.8,367.5 566.1,373.0" fill="none"/>
<polygon points="614.4,427.0 619.5,423.6 623.4,423.4 624.0,425.3 621.7,427.0 624.6,432.7 624.6,440.0 622.9,446.3 621.7,450.8 623.1,457.6 624.0,463.3 625.7,465.2 628.0,463.9 629.7,465.6 630.2,467.8 629.1,469.8 624.0,472.0 620.0,472.0 614.4,468.6 611.3,463.3 607.9,455.4 605.6,449.7 605.9,444.0 607.0,440.6 612.7,440.0 616.6,438.3 615.5,432.7" fill="#fff" stroke="none"/>
<polyline points="605.6,449.7 605.9,444.0 607.0,440.6 612.7,440.0 616.6,438.3 615.5,432.7 614.4,427.0 619.5,423.6 623.4,423.4 624.0,425.3 621.7,427.0 624.6,432.7 624.6,440.0 622.9,446.3 621.7,450.8 623.1,457.6 624.0,463.3 625.7,465.2 628.0,463.9 629.7,465.6" fill="none"/>
<polygon points="605.9,446.8 608.1,448.5 611.0,455.4 614.4,463.3 617.2,467.3 622.9,469.0 628.0,468.0 629.1,469.5 624.0,471.8 620.0,471.8 614.4,468.4 611.5,463.3 608.1,455.4 605.9,449.7" fill="#9ec1c1" stroke-width="0.28"/>
<polygon points="613.8,447.4 617.2,446.8 620.0,450.2 621.7,457.6 622.3,462.7 620.4,464.6 618.9,457.6 616.6,452.0" fill="#9ec1c1" stroke-width="0.28"/>
<polygon points="337.1,174.3 348.0,174.3 347.3,177.7 342.5,178.3 338.4,176.3" fill="#6a9796" stroke-width="0.28"/>
<polygon points="647.3,642.1 647.6,640.7 655.8,639.4 663.9,635.3 670.1,630.5 676.2,629.2 680.3,625.1 685.0,624.4 687.1,627.8 691.8,629.9 693.9,633.3 687.1,636.7 681.6,634.0 675.5,635.3 673.5,637.3 665.3,640.1 658.5,642.1 649.0,644.1" fill="#0f4a4d" stroke-width="0.28"/>
<polygon points="689.1,624.0 692.0,623.5 695.2,626.0 694.5,627.3 691.0,626.5" fill="#0f4a4d" stroke-width="0.28"/>
<polygon points="615.3,640.0 617.0,638.8 620.5,638.8 621.5,641.0 620.0,643.8 616.0,644.0" fill="#0f4a4d" stroke-width="0.28"/>
<polygon points="779.8,577.2 786.5,571.5 789.5,568.5 790.3,569.5 787.0,574.5 783.0,579.5 781.0,581.0" fill="#0f4a4d" stroke-width="0.28"/>
<polygon points="772.0,588.5 776.0,584.5 780.0,582.0 781.5,583.5 779.0,588.0 775.5,591.5 772.5,592.0" fill="#0f4a4d" stroke-width="0.28"/>
<polygon points="710.5,628.6 713.5,627.2 714.5,629.0 711.6,630.5" fill="#0f4a4d" stroke-width="0.28"/>
<polygon points="738.2,617.6 741.0,616.3 741.6,617.8 739.0,619.2" fill="#0f4a4d" stroke-width="0.28"/>
<polygon points="556.2,312.2 570.0,312.2 570.0,331.3 563.9,331.8 569.4,335.7 573.7,337.3 578.2,339.7 574.9,341.2 575.4,344.5 573.3,347.8 571.6,351.1 572.1,353.8 569.4,354.9 565.5,354.9 565.0,360.9 563.4,362.6 562.2,362.0 562.2,354.3 560.1,350.0 556.8,345.5 554.0,342.8 552.3,337.9 552.9,334.6 555.6,330.1 556.8,323.6 557.3,313.7" fill="#0f4a4d"/>
<polyline points="319.4,156.5 318.7,163.4 320.7,170.2 324.1,176.3 326.2,174.5 328.2,173.6" fill="none" stroke="#6a797b" stroke-width="1.1" stroke-linecap="round"/>
<polyline points="347.4,179.7 352.4,182.2 364.9,178.4 375.0,173.5 382.3,169.7 383.6,166.7" fill="none" stroke="#607172" stroke-width="1.1" stroke-linecap="round"/>
<polyline points="553.6,320.4 555.3,326.1 553.6,335.1" fill="none" stroke="#4e6264" stroke-width="1.1" stroke-linecap="round"/>
<polyline points="680.0,322.8 684.0,321.1 689.1,320.7 686.8,327.3 682.9,326.7 680.0,322.8" fill="none" stroke-width="0.32"/>
<polyline points="796.6,555.2 795.2,560.6 792.5,566.1 789.1,570.8 785.7,575.6 782.3,580.3 778.9,585.8 775.5,590.5 769.4,595.3 763.9,601.4 758.5,606.2 754.5,609.6" fill="none" stroke="#1f5356" stroke-width="1.1" stroke-linecap="round"/>
<polyline points="752.4,611.0 749.0,613.0 746.0,615.0" fill="none" stroke="#1f5356" stroke-width="1.1" stroke-linecap="round"/>
<polyline points="743.8,616.2 740.1,617.8 737.0,619.3" fill="none" stroke="#1f5356" stroke-width="1.1" stroke-linecap="round"/>
<polyline points="733.5,620.8 731.3,621.8 724.5,623.9 717.7,626.6 711.6,629.3" fill="none" stroke="#1f5356" stroke-width="1.1" stroke-linecap="round"/>
<polyline points="695.9,633.3 699.3,631.9" fill="none" stroke="#1f5356" stroke-width="1.1" stroke-linecap="round"/>
</g>
</g>
<rect x="77.6" y="1017" width="277" height="289.6" fill="#fff" stroke="#c4c4c4" stroke-width="1.1"/>
<text x="101.3" y="1053.8" font-size="23" stroke="#000" stroke-width="0.3">Prevalence, by quintile</text>
<rect x="94.9" y="1075.9" width="66" height="33.3" fill="#d6eef0" stroke="#999494" stroke-width="0.7"/>
<text x="176.6" y="1099.6" font-size="23.4" stroke="#000" stroke-width="0.3">20.5%<tspan font-size="27.5" dy="0.9">–</tspan><tspan dy="-0.9">23.9%</tspan></text>
<rect x="94.9" y="1120.6" width="66" height="33.3" fill="#9ec1c1" stroke="#999494" stroke-width="0.7"/>
<text x="176.6" y="1144.1" font-size="23.4" stroke="#000" stroke-width="0.3">24.0%<tspan font-size="27.5" dy="0.9">–</tspan><tspan dy="-0.9">30.3%</tspan></text>
<rect x="94.9" y="1165.2" width="66" height="33.3" fill="#6a9796" stroke="#999494" stroke-width="0.7"/>
<text x="176.6" y="1188.7" font-size="23.4" stroke="#000" stroke-width="0.3">30.4%<tspan font-size="27.5" dy="0.9">–</tspan><tspan dy="-0.9">35.0%</tspan></text>
<rect x="94.9" y="1209.9" width="66" height="33.3" fill="#3d7071" stroke="#999494" stroke-width="0.7"/>
<text x="176.6" y="1233.2" font-size="23.4" stroke="#000" stroke-width="0.3">35.1%<tspan font-size="27.5" dy="0.9">–</tspan><tspan dy="-0.9">40.3%</tspan></text>
<rect x="94.9" y="1254.5" width="66" height="33.3" fill="#0f4a4d" stroke="#999494" stroke-width="0.7"/>
<text x="176.6" y="1277.8" font-size="23.4" stroke="#000" stroke-width="0.3">40.4%<tspan font-size="27.5" dy="0.9">–</tspan><tspan dy="-0.9">50.8%</tspan></text>
</svg>
</body></html>
